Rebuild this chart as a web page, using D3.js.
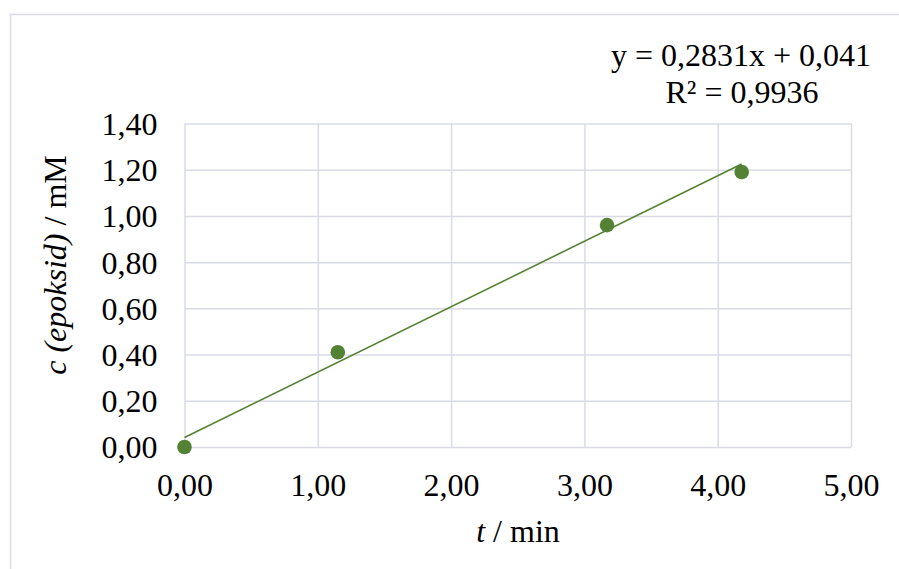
<!DOCTYPE html>
<html>
<head>
<meta charset="utf-8">
<script src="https://cdn.jsdelivr.net/npm/d3@7"></script>
<style>
html,body{margin:0;padding:0;background:#fff;}
svg{display:block;}
text{font-family:"Liberation Serif","Times New Roman",serif;fill:#000;}
</style>
</head>
<body>
<svg id="chart" width="899" height="569"></svg>
<script>
const xValues = [0.00, 1.15, 3.17, 4.18];
const yValues = [0.00, 0.41, 0.96, 1.19];
const xTicks = [0, 1, 2, 3, 4, 5];
const yTicks = [0, 0.2, 0.4, 0.6, 0.8, 1.0, 1.2, 1.4];
const slope = 0.2831;
const intercept = 0.041;
const equationText = "y = 0,2831x + 0,041";
const r2Text = "R² = 0,9936";
const xTitle = ["t", " / min"];
const yTitle = ["c (epoksid)", " / mM"];

const svg = d3.select("#chart");
const pLeft = 184.5, pRight = 851, pTop = 123.5, pBottom = 447;
const green = "#548235";
const gridColor = "#d9dce4";
const fs = 32;

// chart border
svg.append("rect").attr("x", 10.5).attr("y", 14.5).attr("width", 900).attr("height", 600)
  .attr("fill", "#fff").attr("stroke", "#d9dce4").attr("stroke-width", 1.5);

const x = d3.scaleLinear().domain([0, 5]).range([pLeft, pRight]);
const y = d3.scaleLinear().domain([0, 1.4]).range([pBottom, pTop]);

const fmt = v => d3.format(".2f")(v).replace(".", ",");

// gridlines + y axis labels
const yAxis = d3.axisLeft(y).tickValues(yTicks).tickSize(-(pRight - pLeft)).tickFormat(fmt).tickPadding(27);
const gy = svg.append("g").attr("transform", `translate(${pLeft},0)`).call(yAxis);
gy.select(".domain").remove();
gy.selectAll(".tick line").attr("stroke", gridColor).attr("stroke-width", 1.5);
gy.selectAll(".tick text").attr("font-size", fs).attr("font-family", "Liberation Serif").attr("fill", "#000").attr("dy", "0.34em");

const xAxis = d3.axisBottom(x).tickValues(xTicks).tickSize(-(pBottom - pTop)).tickFormat(fmt);
const gx = svg.append("g").attr("transform", `translate(0,${pBottom})`).call(xAxis);
gx.select(".domain").remove();
gx.selectAll(".tick line").attr("stroke", gridColor).attr("stroke-width", 1.5);
gx.selectAll(".tick text").attr("font-size", fs).attr("font-family", "Liberation Serif").attr("fill", "#000")
  .attr("y", 49).attr("dy", 0);

// trendline
const xMin = d3.min(xValues), xMax = d3.max(xValues);
svg.append("line")
  .attr("x1", x(xMin)).attr("y1", y(slope * xMin + intercept))
  .attr("x2", x(xMax)).attr("y2", y(slope * xMax + intercept))
  .attr("stroke", green).attr("stroke-width", 1.6);

// points
svg.selectAll("circle.pt").data(xValues.map((v, i) => [v, yValues[i]])).enter()
  .append("circle").attr("class", "pt")
  .attr("cx", d => x(d[0])).attr("cy", d => y(d[1])).attr("r", 7.3)
  .attr("fill", green);

// equation
svg.append("text").attr("x", 741).attr("y", 66).attr("text-anchor", "middle")
  .attr("font-size", fs).text(equationText);
svg.append("text").attr("x", 742).attr("y", 103).attr("text-anchor", "middle")
  .attr("font-size", fs).text(r2Text);

// x title
const xt = svg.append("text").attr("x", 518).attr("y", 542).attr("text-anchor", "middle").attr("font-size", fs);
xt.append("tspan").attr("font-style", "italic").text(xTitle[0]);
xt.append("tspan").text(xTitle[1]);

// y title
const yt = svg.append("text").attr("transform", "translate(66,265) rotate(-90)").attr("text-anchor", "middle").attr("font-size", fs);
yt.append("tspan").attr("font-style", "italic").text(yTitle[0]);
yt.append("tspan").text(yTitle[1]);
</script>
</body>
</html>
